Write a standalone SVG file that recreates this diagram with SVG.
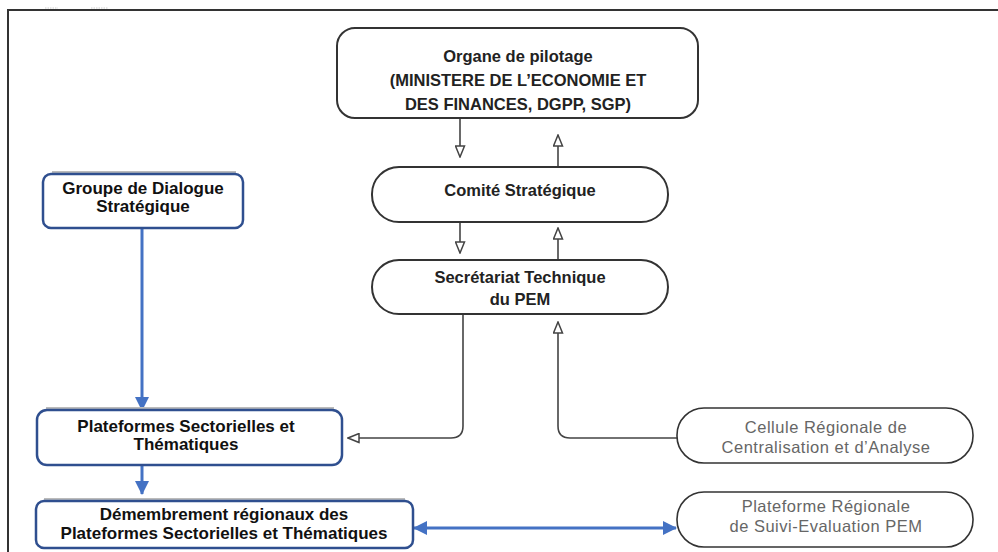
<svg xmlns="http://www.w3.org/2000/svg" width="998" height="552" viewBox="0 0 998 552">
<style>
.frame{fill:none;stroke:#333;stroke-width:2}
.cbox{fill:#fff;stroke:#333;stroke-width:2}
.gbox{fill:#fff;stroke:#333;stroke-width:1.6}
.bbox{fill:#fff;stroke:#2F4F8F;stroke-width:2.5}
.shadow{fill:none;stroke:#bbb;stroke-width:2}
.conn{fill:none;stroke:#444;stroke-width:1.6}
.blue{fill:none;stroke:#4472C4;stroke-width:3}
.tc{font-family:"Liberation Sans",Arial,sans-serif;font-weight:bold;font-size:16.5px;fill:#222;text-anchor:middle}
.tl{font-family:"Liberation Sans",Arial,sans-serif;font-weight:bold;font-size:17px;fill:#111;text-anchor:middle}
.tg{font-family:"Liberation Sans",Arial,sans-serif;font-size:16.5px;letter-spacing:0.5px;fill:#666;text-anchor:middle}
</style>
<defs>
<marker id="open" viewBox="0 0 13 11" refX="12" refY="5.5" markerWidth="13" markerHeight="11" markerUnits="userSpaceOnUse" orient="auto">
<path d="M1,1 L12,5.5 L1,10 Z" fill="#fff" stroke="#444" stroke-width="1.5"/>
</marker>
<marker id="bfill" viewBox="0 0 14 14" refX="13" refY="7" markerWidth="14" markerHeight="14" markerUnits="userSpaceOnUse" orient="auto-start-reverse">
<path d="M0,0 L14,7 L0,14 Z" fill="#4472C4"/>
</marker>
</defs>
<rect width="998" height="552" fill="#fff"/>
<path class="frame" d="M8,552 V10 H998"/>
<path d="M45,8 H58 M91,8 H108" stroke="#ccc" stroke-width="1" stroke-dasharray="1.5,1"/>

<g id="connectors">
<path class="conn" d="M460,118 V157" marker-end="url(#open)"/>
<path class="conn" d="M558,167 V135" marker-end="url(#open)"/>
<path class="conn" d="M460,222 V253" marker-end="url(#open)"/>
<path class="conn" d="M558,260 V228" marker-end="url(#open)"/>
<path class="conn" d="M463,314 V426 Q463,438 451,438 H348" marker-end="url(#open)"/>
<path class="conn" d="M677,438 H570 Q558,438 558,426 V322" marker-end="url(#open)"/>
<path class="blue" d="M142,228 V410" marker-end="url(#bfill)"/>
<path class="blue" d="M142,466 V494" marker-end="url(#bfill)"/>
<path class="blue" d="M414,528 H676" marker-start="url(#bfill)" marker-end="url(#bfill)"/>
</g>

<g id="organe">
<rect class="cbox" x="337" y="28" width="361" height="90" rx="18"/>
<text class="tc" x="518" y="62">Organe de pilotage</text>
<text class="tc" x="518" y="86">(MINISTERE DE L’ECONOMIE ET</text>
<text class="tc" x="518" y="110">DES FINANCES, DGPP, SGP)</text>
</g>

<g id="comite">
<rect class="cbox" x="372" y="167" width="296" height="55" rx="27"/>
<text class="tc" x="520" y="196">Comité Stratégique</text>
</g>

<g id="secretariat">
<rect class="cbox" x="372" y="260" width="296" height="54" rx="27"/>
<text class="tc" x="520" y="283">Secrétariat Technique</text>
<text class="tc" x="520" y="305">du PEM</text>
</g>

<g id="cellule">
<rect class="gbox" x="677" y="408" width="296" height="55" rx="27"/>
<text class="tg" x="826" y="433">Cellule Régionale de</text>
<text class="tg" x="826" y="453">Centralisation et d’Analyse</text>
</g>

<g id="plateforme-regionale">
<rect class="gbox" x="677" y="492" width="296" height="55" rx="27"/>
<text class="tg" x="826" y="512">Plateforme Régionale</text>
<text class="tg" x="826" y="532">de Suivi-Evaluation PEM</text>
</g>

<g id="groupe">
<path class="shadow" d="M52,172 H236"/>
<rect class="bbox" x="43" y="174" width="200" height="54" rx="8"/>
<text class="tl" x="143" y="194">Groupe de Dialogue</text>
<text class="tl" x="143" y="212">Stratégique</text>
</g>

<g id="plateformes">
<path class="shadow" d="M46,408 H334"/>
<rect class="bbox" x="37" y="410" width="305" height="55" rx="10"/>
<text class="tl" x="186" y="432">Plateformes Sectorielles et</text>
<text class="tl" x="186" y="450">Thématiques</text>
</g>

<g id="demembrement">
<path class="shadow" d="M44,499 H405"/>
<rect class="bbox" x="36" y="501" width="377" height="47" rx="8"/>
<text class="tl" x="224" y="520">Démembrement régionaux des</text>
<text class="tl" x="224" y="539">Plateformes Sectorielles et Thématiques</text>
</g>
</svg>
